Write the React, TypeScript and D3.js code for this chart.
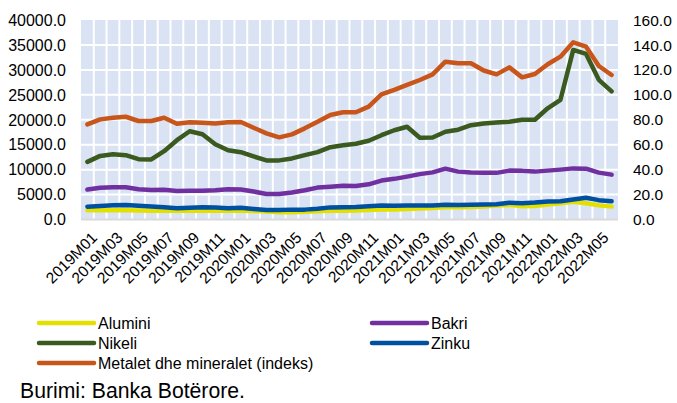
import React from "react";
import * as d3 from "d3";

const months: string[] = [];
for (let y = 2019; y <= 2022; y++) {
  for (let m = 1; m <= 12; m++) {
    if (y === 2022 && m > 6) break;
    months.push(`${y}M${String(m).padStart(2, "0")}`);
  }
}

const alumini = [1850, 1860, 1870, 1850, 1780, 1750, 1800, 1740, 1750, 1730, 1780, 1770, 1770, 1690, 1610, 1460, 1460, 1570, 1640, 1740, 1750, 1810, 1920, 2010, 2000, 2080, 2190, 2330, 2440, 2450, 2490, 2600, 2830, 2930, 2640, 2690, 3000, 3260, 3540, 3250, 2830, 2580];
const bakri = [6000, 6350, 6450, 6450, 6050, 5900, 5950, 5720, 5770, 5750, 5850, 6050, 6000, 5600, 5100, 5100, 5400, 5850, 6400, 6550, 6750, 6700, 7050, 7800, 8150, 8600, 9100, 9450, 10200, 9600, 9400, 9350, 9350, 9800, 9750, 9600, 9800, 10000, 10250, 10200, 9400, 9000];
const nikeli = [11550, 12750, 13100, 12900, 12100, 12050, 13700, 15900, 17700, 17100, 15100, 13900, 13500, 12650, 11850, 11850, 12250, 12900, 13500, 14500, 14900, 15200, 15800, 16900, 17900, 18600, 16400, 16450, 17600, 18000, 18900, 19250, 19450, 19600, 20000, 20000, 22300, 24000, 34000, 33200, 28000, 25700];
const zinku = [2560, 2700, 2850, 2930, 2740, 2600, 2440, 2270, 2340, 2450, 2390, 2270, 2350, 2120, 1900, 1890, 1980, 1980, 2160, 2430, 2460, 2500, 2660, 2800, 2740, 2790, 2800, 2820, 2970, 2910, 2970, 2990, 3060, 3370, 3280, 3400, 3600, 3640, 4010, 4370, 3880, 3640];
const metalet = [76.3, 80.3, 81.6, 82.4, 79.0, 79.0, 81.6, 76.8, 78.0, 77.5, 77.0, 78.0, 78.2, 73.6, 69.1, 65.9, 68.3, 73.1, 78.4, 83.8, 86.0, 86.0, 90.5, 100.4, 103.9, 107.9, 111.9, 116.4, 126.6, 125.3, 125.3, 119.5, 116.4, 122.0, 114.0, 116.7, 124.5, 130.6, 142.1, 138.6, 123.1, 115.9];

const leftTicks = [0, 5000, 10000, 15000, 20000, 25000, 30000, 35000, 40000];
const rightTicks = [0, 20, 40, 60, 80, 100, 120, 140, 160];

const seriesNames = ["Alumini", "Bakri", "Nikeli", "Zinku", "Metalet dhe mineralet (indeks)"];
const colors = ["#e3e000", "#7030a0", "#3b5a1f", "#0050a0", "#c8561a"];

export default function App() {
  const W = 677, H = 403;
  const left = 81, right = 618, top = 20, bottom = 219.5;
  const x = d3.scaleBand<string>().domain(months).range([left, right]).padding(0);
  const yL = d3.scaleLinear().domain([0, 40000]).range([bottom, top]);
  const yR = d3.scaleLinear().domain([0, 160]).range([bottom, top]);
  const cx = (i: number) => (x(months[i]) as number) + x.bandwidth() / 2;
  const lineL = d3.line<number>().x((_, i) => cx(i)).y((d) => yL(d));
  const lineR = d3.line<number>().x((_, i) => cx(i)).y((d) => yR(d));

  const drawOrder: { data: number[]; color: string; right?: boolean }[] = [
    { data: alumini, color: colors[0] },
    { data: zinku, color: colors[3] },
    { data: bakri, color: colors[1] },
    { data: nikeli, color: colors[2] },
    { data: metalet, color: colors[4], right: true },
  ];

  const legend = [
    { name: seriesNames[0], color: colors[0], lx: 39, y: 323 },
    { name: seriesNames[1], color: colors[1], lx: 372, y: 323 },
    { name: seriesNames[2], color: colors[2], lx: 39, y: 343 },
    { name: seriesNames[3], color: colors[3], lx: 372, y: 343 },
    { name: seriesNames[4], color: colors[4], lx: 39, y: 363 },
  ];

  const font = "'Liberation Sans', Arial, sans-serif";

  return (
    <svg width={W} height={H} style={{ position: "absolute", left: 0, top: 0, background: "#fff" }} fontFamily={font}>
      <rect x={left} y={top} width={right - left} height={bottom - top} fill="#dae3f3" />
      {leftTicks.slice(1, -1).map((t) => (
        <line key={"h" + t} x1={left} x2={right} y1={yL(t)} y2={yL(t)} stroke="#fff" strokeWidth={2} />
      ))}
      {months.slice(1).map((m) => (
        <line key={"v" + m} x1={x(m) as number} x2={x(m) as number} y1={top} y2={bottom} stroke="#fff" strokeWidth={2} />
      ))}
      <line x1={left} x2={right} y1={bottom} y2={bottom} stroke="#d9d9d9" strokeWidth={2} />
      {drawOrder.map((s, k) => (
        <path key={k} d={(s.right ? lineR : lineL)(s.data) as string} fill="none" stroke={s.color} strokeWidth={4.5} strokeLinejoin="round" strokeLinecap="round" />
      ))}
      {leftTicks.map((t) => (
        <text key={"lt" + t} x={66} y={yL(t)} dy="0.36em" textAnchor="end" fontSize={16} fill="#000">
          {d3.format(".1f")(t)}
        </text>
      ))}
      {rightTicks.map((t) => (
        <text key={"rt" + t} x={633} y={yR(t)} dy="0.36em" textAnchor="start" fontSize={15.5} fill="#000">
          {d3.format(".1f")(t)}
        </text>
      ))}
      {months.map((m, i) =>
        i % 2 === 0 ? (
          <text key={"xt" + m} transform={`translate(${cx(i) + 3},${231}) rotate(-45)`} textAnchor="end" dy="0.7em" fontSize={15.5} fill="#000">
            {m}
          </text>
        ) : null
      )}
      {legend.map((l) => (
        <g key={l.name}>
          <line x1={l.lx} x2={l.lx + 55} y1={l.y} y2={l.y} stroke={l.color} strokeWidth={4.5} strokeLinecap="round" />
          <text x={l.lx + 59} y={l.y} dy="0.36em" fontSize={16} fill="#000">
            {l.name}
          </text>
        </g>
      ))}
      <text x={20} y={398} fontSize={21.2} fill="#000">Burimi: Banka Botërore.</text>
    </svg>
  );
}
